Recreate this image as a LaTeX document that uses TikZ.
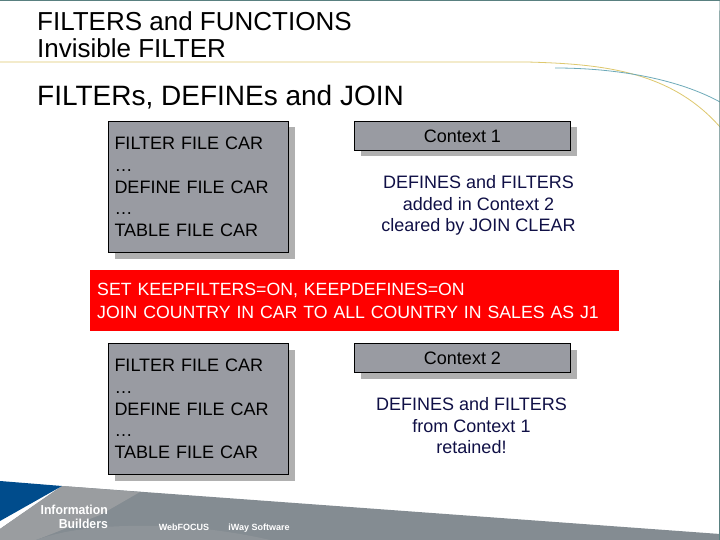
\documentclass[tikz,border=0pt]{standalone}
\usepackage{fontspec}
\setmainfont{Liberation Sans}
\usetikzlibrary{shadows,positioning}
\definecolor{boxgray}{RGB}{153,155,162}
\definecolor{shadegray}{RGB}{176,176,176}
\definecolor{navy}{RGB}{16,16,70}
\definecolor{footdark}{RGB}{132,140,146}
\definecolor{footlight}{RGB}{154,157,160}
\definecolor{footmid}{RGB}{142,148,153}
\definecolor{ibblue}{RGB}{0,76,140}
\definecolor{rulegold}{RGB}{222,200,110}
\definecolor{ruleteal}{RGB}{110,170,185}
\def\Fsz{\fontsize{18}{21.6}\selectfont}

\begin{document}
\begin{tikzpicture}[x=1pt,y=-1pt,% all positions are in pixels of the slide
		every node/.style={
			align=left,
			inner sep=0pt
		},
		codebox/.style={
			rectangle,draw=black,line width=1pt,fill=boxgray,anchor=north west,
			minimum width=180pt,minimum height=131pt,text width=168pt,font=\Fsz,
			general shadow={fill=shadegray,shadow xshift=6pt,shadow yshift=-6pt}
		},
		ctxbox/.style={
			rectangle,draw=black,line width=1pt,fill=boxgray,anchor=north west,
			minimum width=216pt,minimum height=29pt,align=center,font=\fontsize{18}{20}\selectfont,
			general shadow={fill=shadegray,shadow xshift=6pt,shadow yshift=-6pt}
		},
		ctxtext/.style={align=center,text=navy,font=\fontsize{18}{21.6}\selectfont},
		logotext/.style={text=white,font=\bfseries\fontsize{9}{10}\selectfont}
	]
	\useasboundingbox (0,0) rectangle (720,540);
	% footer
	\fill[white] (0,0) rectangle (720,540);
	\fill[footdark] (62,486) -- (720,534) -- (720,540) -- (0,540) -- (0,529) -- cycle;
	\fill[footlight] (62,486) -- (140,492) -- (100,515) -- (36,540) -- (0,540) -- (0,529) -- cycle;
	\fill[footmid] (36,540) .. controls (70,528) and (110,525) .. (160,526) .. controls (200,527) and (240,533) .. (270,540) -- cycle;
	\fill[ibblue] (0,481) -- (62,486) -- (0,521) -- cycle;
	% curved rules
	\draw[rulegold,line width=.8pt] (0,62) -- (527,62) .. controls (600,64) and (670,70) .. (720,127);
	\draw[ruleteal,line width=.8pt] (555,68) .. controls (620,68) and (680,80) .. (720,102);
	\draw[gray!70!teal,line width=1pt] (0,0.5) -- (720,0.5) -- (719.5,540);
	% titles
	\node[anchor=base west,font=\fontsize{26}{30}\selectfont] (T1) at (37,31) {FILTERS and FUNCTIONS};
	\node[anchor=base west,font=\fontsize{26}{30}\selectfont] (T2) at (37,58) {Invisible FILTER};
	\node[anchor=base west,font=\fontsize{28}{32}\selectfont] (T3) at (37,106) {FILTERs, DEFINEs and JOIN};
	% upper part
	\node[codebox] (Code1) at (108,121) {FILTER FILE CAR\\…\\DEFINE FILE CAR\\…\\TABLE FILE CAR};
	\node[ctxbox] (Ctx1) at (354,121) {Context 1};
	\node[ctxtext] (Note1) [below=24.5pt of Ctx1,xshift=16pt] {DEFINES and FILTERS\\added in Context 2\\cleared by JOIN CLEAR};
	% red band
	\node[rectangle,fill=red,text=white,anchor=north west,minimum width=529pt,minimum height=61pt,
		text width=515pt,font=\fontsize{17.7}{23}\selectfont] (Band) at (90,270)
		{SET KEEPFILTERS=ON, KEEPDEFINES=ON\\JOIN COUNTRY IN CAR TO ALL COUNTRY IN SALES AS J1};
	% lower part
	\node[codebox] (Code2) at (108,343) {FILTER FILE CAR\\…\\DEFINE FILE CAR\\…\\TABLE FILE CAR};
	\node[ctxbox] (Ctx2) at (354,343) {Context 2};
	\node[ctxtext] (Note2) [below=24.5pt of Ctx2,xshift=9pt] {DEFINES and FILTERS\\from Context 1\\retained!};
	% logo
	\node[logotext,anchor=base east,font=\bfseries\fontsize{13}{14}\selectfont,xscale=.94] (Logo1) at (108,514) {Information};
	\node[logotext,anchor=base east,font=\bfseries\fontsize{13}{14}\selectfont,xscale=.94] (Logo2) at (108,528) {Builders};
	\node[logotext,anchor=base] (Web) at (184,530) {WebFOCUS};
	\node[logotext,anchor=base] (Iway) at (259,530) {iWay Software};
\end{tikzpicture}
\end{document}
